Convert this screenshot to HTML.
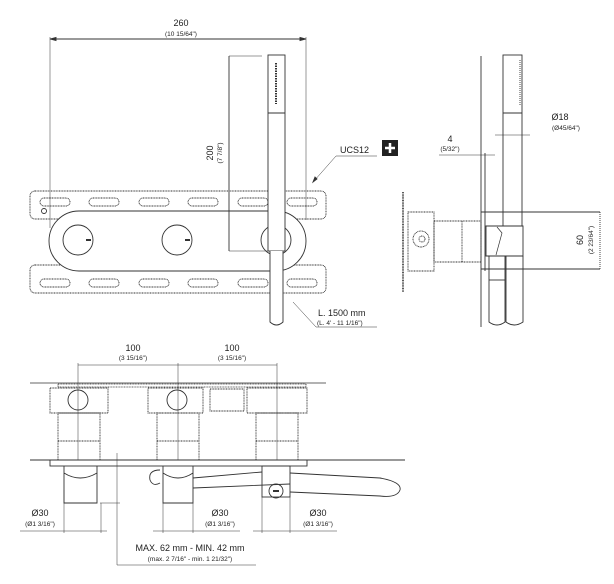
<!DOCTYPE html>
<html><head><meta charset="utf-8"><style>
body{margin:0;background:#fff}
svg{display:block}
text{font-family:"Liberation Sans",sans-serif;fill:#222}
</style></head><body>
<svg width="614" height="584" viewBox="0 0 614 584" xmlns="http://www.w3.org/2000/svg" fill="none" stroke="#333" stroke-width="0.9">
<!-- FRONT VIEW -->
<text x="181" y="26" font-size="9" text-anchor="middle" stroke="none">260</text>
<text x="181" y="36" font-size="6.5" text-anchor="middle" stroke="none">(10 15/64")</text>
<line x1="50" y1="39" x2="306" y2="39"/>
<path d="M50 39l6 -1.5v3zM306 39l-6 -1.5v3z" fill="#333"/>
<line x1="50" y1="37" x2="50" y2="228" stroke-width="0.5"/>
<line x1="306" y1="37" x2="306" y2="220" stroke-width="0.5"/>
<g stroke-dasharray="1 0.6" stroke-width="0.9">
<rect x="30" y="191" width="296" height="28" rx="5"/>
<rect x="30" y="265" width="296" height="28" rx="5"/>
<g>
<rect x="40" y="198" width="30" height="8" rx="4"/><rect x="89" y="198" width="30" height="8" rx="4"/><rect x="139" y="198" width="30" height="8" rx="4"/><rect x="188" y="198" width="30" height="8" rx="4"/><rect x="238" y="198" width="30" height="8" rx="4"/><rect x="287" y="198" width="30" height="8" rx="4"/>
<rect x="40" y="279" width="30" height="8" rx="4"/><rect x="89" y="279" width="30" height="8" rx="4"/><rect x="139" y="279" width="30" height="8" rx="4"/><rect x="188" y="279" width="30" height="8" rx="4"/><rect x="238" y="279" width="30" height="8" rx="4"/><rect x="287" y="279" width="30" height="8" rx="4"/>
</g></g>
<circle cx="44" cy="211" r="2.5"/>
<rect x="49" y="211" width="257" height="60" rx="30" fill="#fff"/>
<circle cx="78" cy="240" r="15"/><circle cx="177" cy="240" r="15"/><circle cx="276" cy="240" r="15"/>
<rect x="86" y="239" width="5" height="2" fill="#333" stroke="none"/><rect x="185" y="239" width="5" height="2" fill="#333" stroke="none"/>
<line x1="229" y1="56" x2="229" y2="251"/>
<line x1="229" y1="56" x2="262" y2="56" stroke-width="0.5"/>
<line x1="229" y1="251" x2="268" y2="251" stroke-width="0.5"/>
<text transform="translate(213,153) rotate(-90)" font-size="9" text-anchor="middle" stroke="none">200</text>
<text transform="translate(222,153) rotate(-90)" font-size="6.5" text-anchor="middle" stroke="none">(7 7/8")</text>
<rect x="268" y="55" width="17" height="196" fill="#fff"/>
<line x1="268" y1="113" x2="285" y2="113"/>
<line x1="276" y1="63" x2="276" y2="104" stroke-dasharray="1.5 1" stroke-width="2"/>
<path d="M270 251V322q6.5 6 13 0V251" fill="#fff"/>
<text x="340" y="153" font-size="9" stroke="none">UCS12</text>
<line x1="336" y1="156" x2="377" y2="156" stroke-width="0.5"/>
<path d="M336 156L314 181" stroke-width="0.5"/><path d="M313 182l2 -5 2 2z" fill="#333"/>
<rect x="382" y="140" width="16" height="16" fill="#222" stroke="none"/>
<path d="M390 143v10M385 148h10" stroke="#fff" stroke-width="2.5"/>
<text x="318" y="316" font-size="9" stroke="none">L. 1500 mm</text>
<text x="317" y="325" font-size="6.5" stroke="none">(L. 4' - 11 1/16")</text>
<path d="M293 302L316 327H377" stroke-width="0.5"/>
<!-- SIDE VIEW -->
<line x1="481" y1="56" x2="481" y2="327"/>
<line x1="485" y1="153" x2="485" y2="271"/>
<rect x="503" y="55" width="19" height="197" fill="#fff"/>
<line x1="503" y1="113" x2="522" y2="113"/>
<line x1="520" y1="60" x2="520" y2="105" stroke-dasharray="1 1"/>
<line x1="481" y1="212" x2="600" y2="212"/><line x1="481" y1="269" x2="600" y2="269"/>
<line x1="600" y1="212" x2="600" y2="269" stroke-dasharray="1 1"/>
<path d="M486 226h10l8 -0 h19v30h-37z" fill="#fff"/>
<path d="M497 227l5 6l-6 22" stroke-width="0.7"/>
<path d="M489 256V322q8 6 16 0V256M506 256V322q8 6 17 0V256"/>
<line x1="489" y1="280" x2="505" y2="280"/>
<g stroke-dasharray="1 0.6" stroke-width="0.9">
<line x1="403" y1="192" x2="403" y2="292" stroke-width="1.6"/>
<rect x="408" y="212" width="26" height="59"/>
<rect x="434" y="221" width="47" height="41"/><line x1="462" y1="221" x2="462" y2="262"/>
<circle cx="421" cy="239" r="8"/><circle cx="422" cy="239" r="3"/>
</g>
<text x="560" y="120" font-size="9" text-anchor="middle" stroke="none">Ø18</text>
<text x="566" y="130" font-size="6.5" text-anchor="middle" stroke="none">(Ø45/64")</text>
<line x1="495" y1="135" x2="530" y2="135" stroke-width="0.5"/>
<text x="450" y="142" font-size="9" text-anchor="middle" stroke="none">4</text>
<text x="450" y="151" font-size="6.5" text-anchor="middle" stroke="none">(5/32")</text>
<line x1="439" y1="155" x2="495" y2="155" stroke-width="0.5"/>
<text transform="translate(583,240) rotate(-90)" font-size="9" text-anchor="middle" stroke="none">60</text>
<text transform="translate(593,240) rotate(-90)" font-size="6.5" text-anchor="middle" stroke="none">(2 23/64")</text>
<!-- BOTTOM VIEW -->
<text x="133" y="351" font-size="9" text-anchor="middle" stroke="none">100</text>
<text x="133" y="360" font-size="6.5" text-anchor="middle" stroke="none">(3 15/16")</text>
<text x="232" y="351" font-size="9" text-anchor="middle" stroke="none">100</text>
<text x="232" y="360" font-size="6.5" text-anchor="middle" stroke="none">(3 15/16")</text>
<line x1="78" y1="365" x2="277" y2="365" stroke-width="0.5"/>
<line x1="78" y1="363" x2="78" y2="460" stroke-width="0.5"/><line x1="178" y1="363" x2="178" y2="460" stroke-width="0.5"/><line x1="277" y1="363" x2="277" y2="460" stroke-width="0.5"/>
<line x1="30" y1="383" x2="326" y2="383" stroke-width="0.8"/>
<rect x="58" y="384" width="248" height="3" stroke-dasharray="1 0.6" stroke-width="0.8"/>
<g stroke-width="0.9" stroke-dasharray="1 0.6">
<rect x="50" y="388" width="58" height="25"/><rect x="148" y="388" width="55" height="25"/><rect x="247" y="388" width="60" height="25"/>
<rect x="210" y="389" width="34" height="22"/>
<rect x="58" y="413" width="42" height="47"/><line x1="58" y1="441" x2="100" y2="441"/>
<rect x="157" y="413" width="42" height="47"/><line x1="157" y1="441" x2="199" y2="441"/>
<rect x="256" y="413" width="42" height="47"/><line x1="256" y1="441" x2="298" y2="441"/>
</g>
<circle cx="78" cy="400" r="10"/><circle cx="177" cy="400" r="10"/>
<line x1="30" y1="460" x2="405" y2="460"/>
<rect x="50" y="460" width="257" height="6"/>
<path d="M64 466V503H97V466M64 473q16 10 33 0M163 466V503H193V466M163 473q15 10 30 0"/>
<path d="M160 470q-12 0 -10 10q3 7 10 3M193 478L262 472M193 488L290 484M290 473L380 478q22 4 20 12q-3 8 -20 6L290 492"/>
<rect x="262" y="466" width="28" height="31"/>
<circle cx="276" cy="491" r="7"/><rect x="273" y="490" width="6" height="2" fill="#333" stroke="none"/>
<line x1="101" y1="503" x2="101" y2="533" stroke-width="0.5"/><line x1="64" y1="490" x2="64" y2="533" stroke-width="0.5"/>
<line x1="163" y1="503" x2="163" y2="533" stroke-width="0.5"/><line x1="193" y1="503" x2="193" y2="533" stroke-width="0.5"/>
<line x1="262" y1="497" x2="262" y2="533" stroke-width="0.5"/><line x1="290" y1="497" x2="290" y2="533" stroke-width="0.5"/>
<text x="40" y="516" font-size="9" text-anchor="middle" stroke="none">Ø30</text>
<text x="40" y="526" font-size="6.5" text-anchor="middle" stroke="none">(Ø1 3/16")</text>
<text x="220" y="516" font-size="9" text-anchor="middle" stroke="none">Ø30</text>
<text x="220" y="526" font-size="6.5" text-anchor="middle" stroke="none">(Ø1 3/16")</text>
<text x="318" y="516" font-size="9" text-anchor="middle" stroke="none">Ø30</text>
<text x="318" y="526" font-size="6.5" text-anchor="middle" stroke="none">(Ø1 3/16")</text>
<line x1="20" y1="531" x2="107" y2="531" stroke-width="0.5"/>
<line x1="153" y1="531" x2="240" y2="531" stroke-width="0.5"/>
<line x1="253" y1="531" x2="337" y2="531" stroke-width="0.5"/>
<path d="M117 453V565H256" stroke-width="0.5"/>
<line x1="100" y1="503" x2="120" y2="503" stroke-width="0.5"/>
<text x="190" y="551" font-size="9" text-anchor="middle" stroke="none">MAX. 62 mm - MIN. 42 mm</text>
<text x="190" y="561" font-size="6.5" text-anchor="middle" stroke="none">(max. 2 7/16" - min. 1 21/32")</text>
</svg>
</body></html>
